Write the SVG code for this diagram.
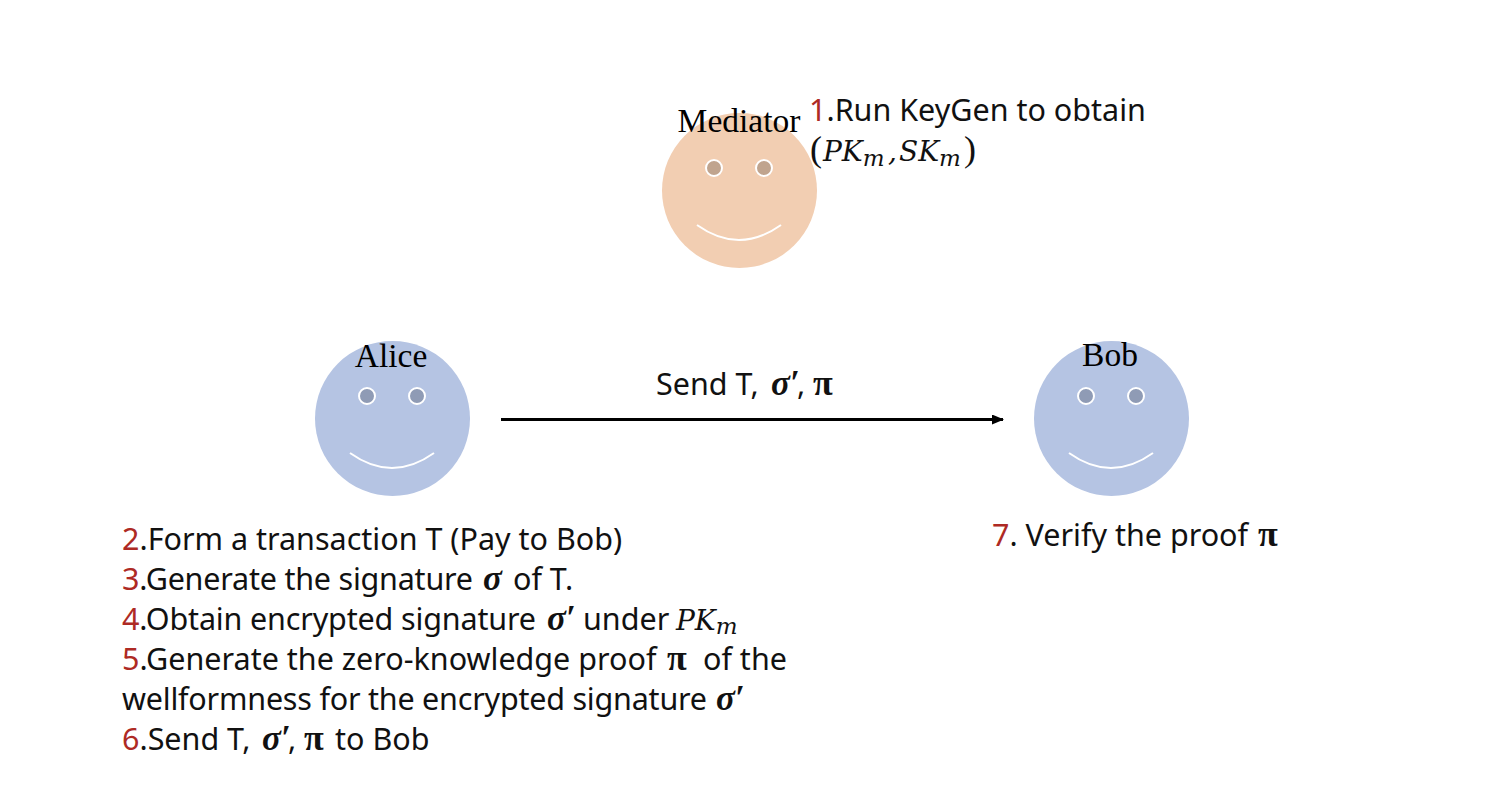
<svg xmlns="http://www.w3.org/2000/svg" width="1500" height="800" viewBox="0 0 1500 800">
<style>
.t{font-family:"Noto Sans","Open Sans",sans-serif;font-size:30.5px;fill:#111}
.r{fill:#ae2a24}
.m{font-family:"DejaVu Serif",serif;font-style:italic;font-size:28px;fill:#111}
.g{font-family:"Liberation Serif",serif;font-style:italic;font-weight:bold;font-size:35px;fill:#111}
.u{font-family:"Liberation Serif",serif;font-size:36px;fill:#111}
.s{font-size:23px}
.p{font-family:"Liberation Serif",serif;font-weight:bold;font-size:36px;fill:#111}
.n{font-family:"Liberation Serif",serif;font-size:33.5px;fill:#000;text-anchor:middle}
.eye{stroke:#fff;stroke-width:2}
.smile{fill:none;stroke:#fff;stroke-width:2}
.blue{fill:#b5c4e3}
.be{fill:#8f9bb5}
</style>
<defs>
<marker id="a" markerUnits="userSpaceOnUse" markerWidth="12" markerHeight="10" refX="11" refY="5" orient="auto"><path d="M0 0L12 5L0 10Z" fill="#000"/></marker>
</defs>
<rect width="1500" height="800" fill="#fff"/>
<g id="mediator">
<circle cx="739.5" cy="190.5" r="77.5" fill="#f2ceb2"/>
<circle class="eye" cx="714" cy="168" r="8" fill="#c0a48e"/>
<circle class="eye" cx="764" cy="168" r="8" fill="#c0a48e"/>
<path class="smile" d="M697 225Q739 255 781 225"/>
<text class="n" x="739" y="132">Mediator</text>
</g>
<g id="alice">
<circle class="blue" cx="392.5" cy="418.5" r="77.5"/>
<circle class="eye be" cx="367" cy="396" r="8"/>
<circle class="eye be" cx="417" cy="396" r="8"/>
<path class="smile" d="M350 453Q392 483 434 453"/>
<text class="n" x="391" y="367">Alice</text>
</g>
<g id="bob">
<circle class="blue" cx="1111.5" cy="418.5" r="77.5"/>
<circle class="eye be" cx="1086" cy="396" r="8"/>
<circle class="eye be" cx="1136" cy="396" r="8"/>
<path class="smile" d="M1069 453Q1111 483 1153 453"/>
<text class="n" x="1110" y="366">Bob</text>
</g>
<g id="connectors">
<line x1="501" y1="419.5" x2="1003" y2="419.5" stroke="#000" stroke-width="3" marker-end="url(#a)"/>
</g>
<g id="labels">
<text class="t" x="809" y="121"><tspan class="r">1</tspan>.Run KeyGen to obtain</text>
<text class="u" x="810" y="161">(</text><text class="m" x="823" y="161">PK<tspan class="s" dy="5">m</tspan></text><text class="m" x="888" y="161">,</text><text class="m" x="899" y="161">SK<tspan class="s" dy="5">m</tspan></text><text class="u" x="964" y="161">)</text>
<text class="t" x="656" y="395">Send T,</text><text class="g" x="771" y="395">σ′</text><text class="t" x="797" y="395">,</text><text class="p" x="813" y="395">π</text>
<text class="t" x="122" y="550"><tspan class="r">2</tspan>.Form a transaction T (Pay to Bob)</text>
<text class="t" x="122" y="590" textLength="351"><tspan class="r">3</tspan>.Generate the signature</text><text class="g" x="483" y="590">σ</text><text class="t" x="513" y="590">of T.</text>
<text class="t" x="122" y="630" textLength="414"><tspan class="r">4</tspan>.Obtain encrypted signature</text><text class="g" x="547" y="630">σ′</text><text class="t" x="583" y="630">under</text><text class="m" x="676" y="630">PK<tspan class="s" dy="4">m</tspan></text>
<text class="t" x="122" y="670"><tspan class="r">5</tspan>.Generate the zero-knowledge proof</text><text class="p" x="667" y="670">π</text><text class="t" x="703" y="670">of the</text>
<text class="t" x="122" y="710" textLength="585">wellformness for the encrypted signature</text><text class="g" x="716" y="710">σ′</text>
<text class="t" x="122" y="750"><tspan class="r">6</tspan>.Send T,</text><text class="g" x="262" y="750">σ′</text><text class="t" x="288" y="750">,</text><text class="p" x="304" y="750">π</text><text class="t" x="335" y="750">to Bob</text>
<text class="t" x="992" y="546"><tspan class="r">7</tspan>. Verify the proof</text><text class="p" x="1258" y="546">π</text>
</g>
</svg>
